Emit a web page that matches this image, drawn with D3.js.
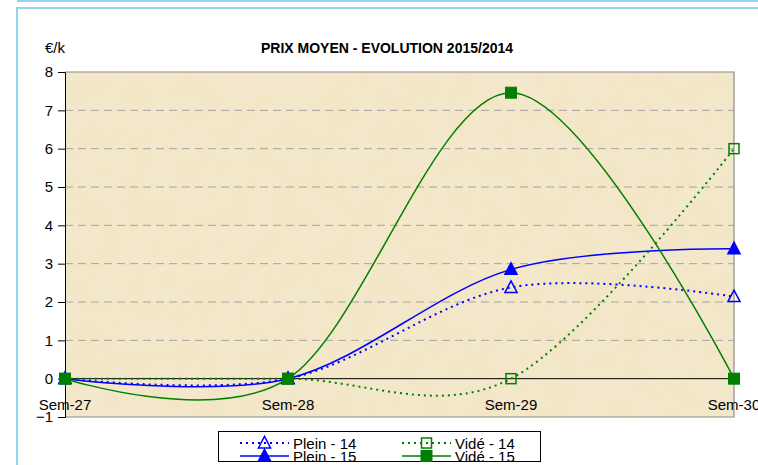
<!DOCTYPE html>
<html><head><meta charset="utf-8">
<script src="https://cdn.jsdelivr.net/npm/d3@7"></script>
<style>body{margin:0;background:#fff;overflow:hidden}svg{display:block}</style>
</head><body>
<svg id="c" width="758" height="465"></svg>
<script>
const categories = ["Sem-27", "Sem-28", "Sem-29", "Sem-30"];
const plein14 = [0, 0, 2.38, 2.14];
const plein15 = [0, 0, 2.85, 3.39];
const vide14 = [0, 0, 0, 6.0];
const vide15 = [0, 0, 7.46, 0];
const yTicks = [-1, 0, 1, 2, 3, 4, 5, 6, 7, 8];
const seriesNames = ["Plein - 14", "Plein - 15", "Vidé - 14", "Vidé - 15"];

const series = [
  {name: seriesNames[0], values: plein14, color: "#0000ff", dash: "2,4", marker: "triangle", filled: false},
  {name: seriesNames[1], values: plein15, color: "#0000ff", dash: null, marker: "triangle", filled: true},
  {name: seriesNames[2], values: vide14, color: "#008000", dash: "2,4", marker: "square", filled: false},
  {name: seriesNames[3], values: vide15, color: "#008000", dash: null, marker: "square", filled: true}
];

const svg = d3.select("#c");
const L = 65, R = 734, T = 72, B = 417;
const x = d3.scalePoint().domain(categories).range([L, R]);
const y = d3.scaleLinear().domain([-1, 8]).range([B, T]);

// frame
svg.append("line").attr("x1", 17).attr("x2", 758).attr("y1", 1).attr("y2", 1).attr("stroke", "#92d4f2").attr("stroke-width", 2);
svg.append("path").attr("d", "M17,465V8H758").attr("fill", "none").attr("stroke", "#92d4f2").attr("stroke-width", 2);

// texture
const defs = svg.append("defs");
const f = defs.append("filter").attr("id", "tex").attr("x", 0).attr("y", 0).attr("width", "100%").attr("height", "100%");
f.append("feTurbulence").attr("type", "fractalNoise").attr("baseFrequency", "0.04").attr("numOctaves", 5).attr("seed", 7).attr("result", "n");
f.append("feColorMatrix").attr("in", "n").attr("type", "matrix")
  .attr("values", "0 0 0 0 0.90  0 0 0 0 0.78  0 0 0 0 0.55  2.2 0 0 0 -0.85").attr("result", "c");
f.append("feComposite").attr("in", "c").attr("in2", "SourceGraphic").attr("operator", "atop");

svg.append("rect").attr("x", L).attr("y", T).attr("width", R - L).attr("height", B - T).attr("fill", "#f3e8cb");
svg.append("rect").attr("x", L).attr("y", T).attr("width", R - L).attr("height", B - T).attr("fill", "#f3e8cb").attr("filter", "url(#tex)");

// grid
svg.append("g").selectAll("line").data(yTicks.filter(d => d > 0 && d < 8)).join("line")
  .attr("x1", L).attr("x2", R).attr("y1", d => y(d)).attr("y2", d => y(d))
  .attr("stroke", "#a3a3a3").attr("stroke-dasharray", "8,5");

// plot border
svg.append("path").attr("d", `M${L},${T}H${R}V${B}H${L}`).attr("fill", "none").attr("stroke", "#8c8c8c").attr("stroke-width", 1.2);

// y axis
const ya = svg.append("g").attr("transform", `translate(${L},0)`)
  .call(d3.axisLeft(y).tickValues(yTicks).tickSize(7).tickPadding(5).tickFormat(d3.format("d")));
ya.select(".domain").attr("stroke", "#000");
ya.selectAll("line").attr("stroke", "#000");
ya.selectAll("text").attr("font-family", "Liberation Sans, Arial, sans-serif").attr("font-size", 15).attr("fill", "#000");

// x axis at zero
svg.append("line").attr("x1", L).attr("x2", R).attr("y1", y(0)).attr("y2", y(0)).attr("stroke", "#000").attr("stroke-width", 1);
svg.append("g").selectAll("text").data(categories).join("text")
  .attr("x", d => x(d)).attr("y", y(0) + 31).attr("text-anchor", "middle")
  .attr("font-family", "Liberation Sans, Arial, sans-serif").attr("font-size", 15).text(d => d);

// titles
svg.append("text").attr("x", 387).attr("y", 53).attr("text-anchor", "middle")
  .attr("font-family", "Liberation Sans, Arial, sans-serif").attr("font-size", 14).attr("font-weight", "bold").text("PRIX MOYEN - EVOLUTION 2015/2014");
svg.append("text").attr("x", 45).attr("y", 53)
  .attr("font-family", "Liberation Sans, Arial, sans-serif").attr("font-size", 15).text("€/k");

// lines
const line = d3.line().x((d, i) => x(categories[i])).y(d => y(d)).curve(d3.curveCatmullRom.alpha(0));
function marker(g, s, cx, cy, size) {
  if (s.marker === "triangle") {
    const h = size;
    g.append("path").attr("d", `M${cx},${cy - h * 0.6}L${cx + h * 0.55},${cy + h * 0.45}L${cx - h * 0.55},${cy + h * 0.45}Z`)
      .attr("fill", s.filled ? s.color : "none").attr("stroke", s.color).attr("stroke-width", 1.5);
  } else {
    const w = s.filled ? size : size - 1;
    g.append("rect").attr("x", cx - w / 2).attr("y", cy - w / 2).attr("width", w).attr("height", w)
      .attr("fill", s.filled ? s.color : "none").attr("stroke", s.color).attr("stroke-width", s.filled ? 1 : 1.5);
  }
}
const sg = svg.append("g");
series.forEach(s => {
  sg.append("path").datum(s.values).attr("d", line).attr("fill", "none")
    .attr("stroke", s.color).attr("stroke-width", s.dash ? 2 : 1.5)
    .attr("stroke-dasharray", s.dash);
});
series.forEach(s => {
  s.values.forEach((v, i) => marker(sg, s, x(categories[i]), y(v), 11));
});

// legend
const lg = svg.append("g");
lg.append("rect").attr("x", 218.5).attr("y", 431.5).attr("width", 322).attr("height", 30).attr("fill", "#fff").attr("stroke", "#000");
const pos = [[240, 443], [240, 456], [402, 443], [402, 456]];
series.forEach((s, i) => {
  const [lx, ly] = pos[i];
  lg.append("line").attr("x1", lx).attr("x2", lx + 49).attr("y1", ly).attr("y2", ly)
    .attr("stroke", s.color).attr("stroke-width", s.dash ? 2 : 1.5).attr("stroke-dasharray", s.dash);
  marker(lg, s, lx + 24.5, ly, 11);
  lg.append("text").attr("x", lx + 53).attr("y", ly + 6).attr("font-family", "Liberation Sans, Arial, sans-serif")
    .attr("font-size", 15).text(s.name);
});
</script>
</body></html>
